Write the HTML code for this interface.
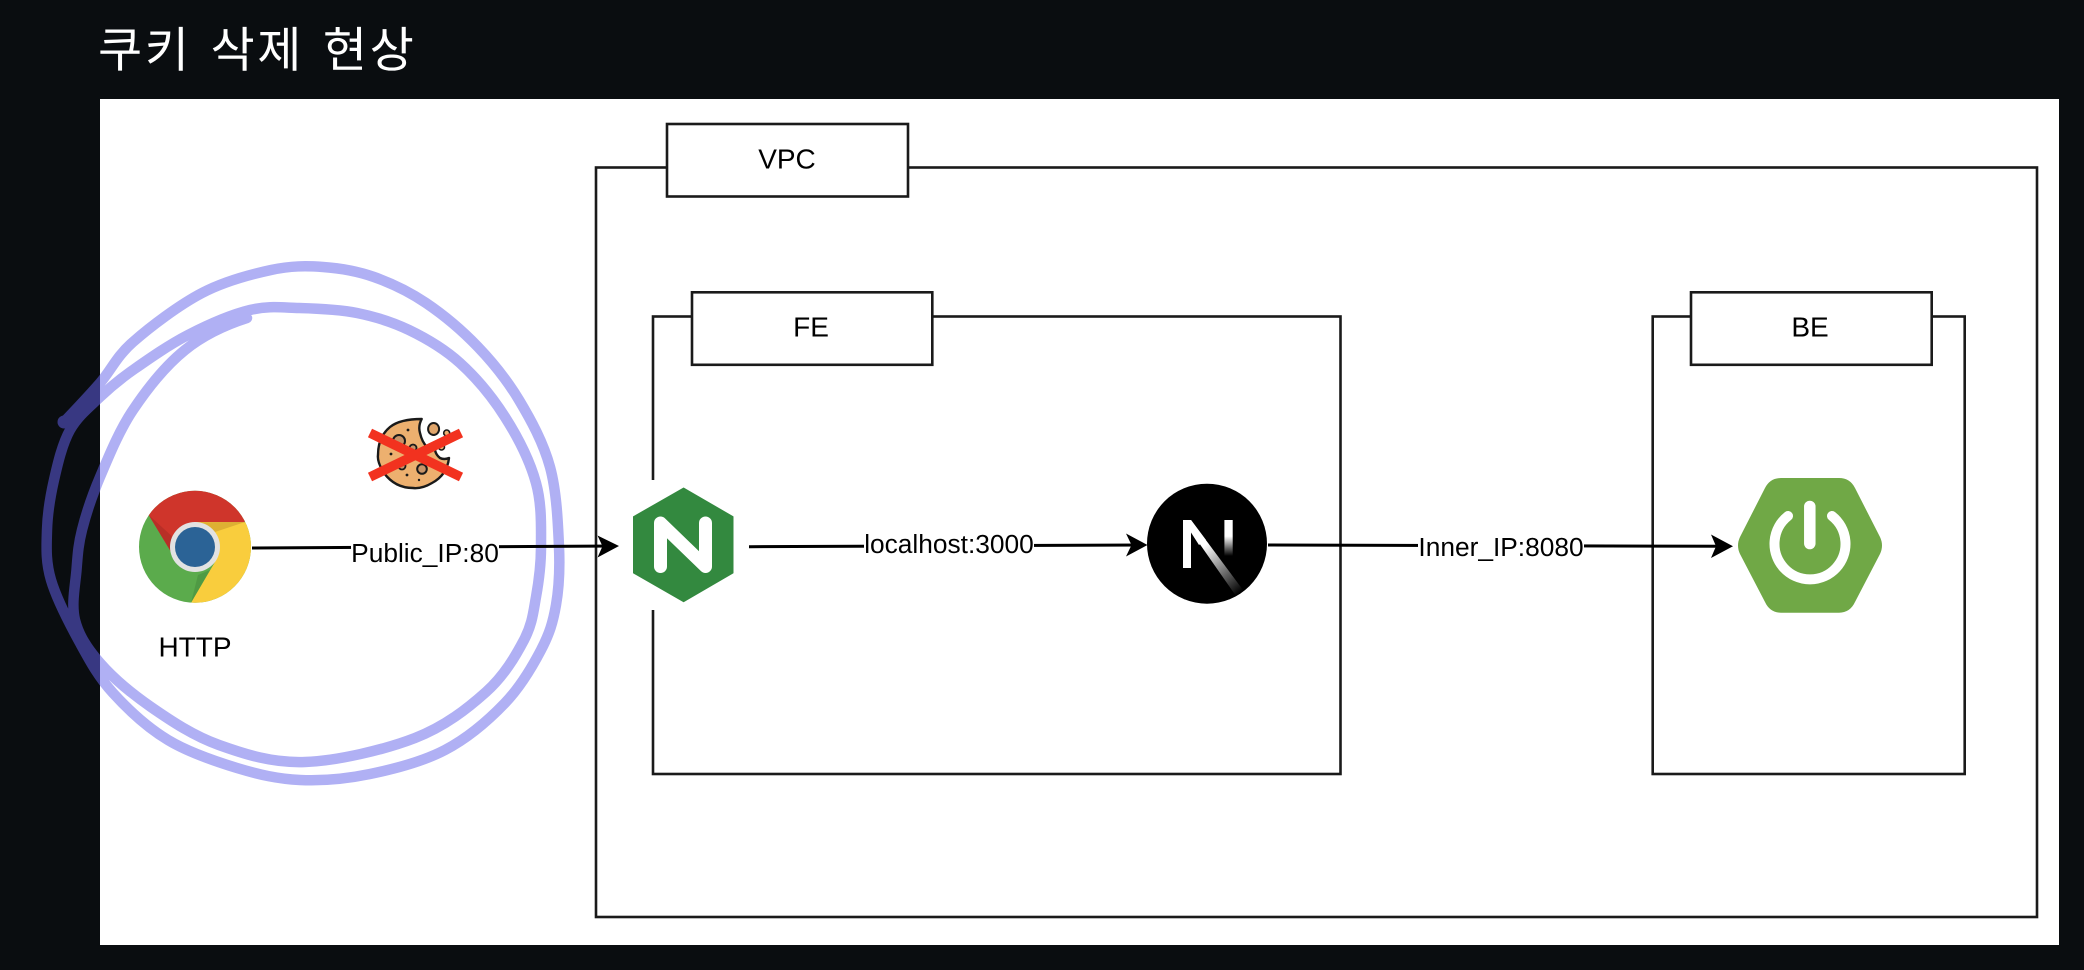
<!DOCTYPE html>
<html lang="ko"><head><meta charset="utf-8"><title>쿠키 삭제 현상</title>
<style>html,body{margin:0;padding:0;background:#0a0d10;width:2084px;height:970px;overflow:hidden}svg{display:block}
text{font-family:"Liberation Sans","Noto Sans CJK KR",sans-serif;fill:#000}</style></head>
<body>
<svg width="2084" height="970" viewBox="0 0 2084 970" xmlns="http://www.w3.org/2000/svg">
<defs>
<clipPath id="cw"><rect x="100" y="99" width="1959" height="846"/></clipPath>
<clipPath id="cd"><rect x="0" y="99" width="100" height="846"/></clipPath>
<clipPath id="cc"><circle cx="195" cy="546.8" r="56"/></clipPath>
<linearGradient id="g1" x1="0" y1="0" x2="0" y2="1"><stop offset="0" stop-color="#fff"/><stop offset="0.45" stop-color="#fff"/><stop offset="1" stop-color="#fff" stop-opacity="0"/></linearGradient>
<linearGradient id="g2" gradientUnits="userSpaceOnUse" x1="1205" y1="545" x2="1243" y2="590"><stop offset="0" stop-color="#fff"/><stop offset="1" stop-color="#fff" stop-opacity="0"/></linearGradient>
<path id="sc" d="M64 422 S88.5 396.3 100 383 S116 357 133 342 S179 305 202 293 S251 274.3 271 270 S306 265.8 323 267 S357 271 374 277 S408.7 291.3 426 303 S462.5 330.8 478 347 S507 380 519 400 S543.3 442.5 550 467 S558 524 559 547 S559 587.8 556 605 S549.5 633.7 541 650 S521 686.3 505 703 S467.5 738.2 445 750 S394.2 769 370 774 S322 781 300 780 S259 774.7 237 768 S188.7 752.5 168 740 S127.7 709.2 113 693 S90.3 661.8 80 643 S56.5 598.8 51 580 S46.5 546.7 47 530 S50.2 496.7 54 480 S62.3 443.8 70 430 S89.5 407 100 397 S118.3 380.3 133 370 S168.5 345 188 335 S231.5 314.5 250 310 S281.2 307.5 299 308 S338.7 309.3 357 313 S391.8 321.7 409 330 S444 348.5 460 363 S492.3 397 505 417 S530 461.3 536 483 S541 528 541 547 S538.8 581.5 536 597 S532.3 624.2 524 640 S504.2 675.7 486 692 S445.2 726.3 415 738 S337.7 760.8 305 762 S244.7 754.2 219 745 S170.8 720.7 151 707 S112.7 677.5 100 663 S78.9 635.5 75 620 S75.3 585 76.5 570 S78.1 545.5 82 530 S91.5 497 100 477 S118.8 431.2 133 410 S166 365.3 185 350 S225 325 247 318" fill="none" stroke-width="10.5" stroke-linecap="round" stroke-linejoin="round"/>
</defs>

<rect width="2084" height="970" fill="#0a0d10"/>
<text x="98" y="66.5" font-size="48" letter-spacing="2.6" word-spacing="3" style="fill:#fff;font-weight:400">쿠키 삭제 현상</text>
<rect x="100" y="99" width="1959" height="846" fill="#fff"/>

<g fill="none" stroke="#1a1a1a" stroke-width="2.6">
<rect x="596" y="167.5" width="1441" height="749.5"/>
<rect x="653" y="316.5" width="687.5" height="457.5"/>
<rect x="1652.7" y="316.5" width="312" height="457.5"/>
</g>
<rect x="640" y="480" width="26" height="130" fill="#fff"/>
<g fill="#fff" stroke="#1a1a1a" stroke-width="2.6">
<rect x="667" y="124" width="241" height="72.5"/>
<rect x="692" y="292.3" width="240.3" height="72.5"/>
<rect x="1691" y="292.3" width="240.7" height="72.5"/>
</g>
<g font-size="28" text-anchor="middle">
<text x="787" y="168.5">VPC</text>
<text x="811" y="336.5">FE</text>
<text x="1810" y="336.5">BE</text>
</g>

<g clip-path="url(#cw)"><use href="#sc" stroke="#b0b0f4"/></g>
<g clip-path="url(#cd)"><use href="#sc" stroke="#383882"/></g>
<g clip-path="url(#cd)"><circle cx="64" cy="422" r="6.5" fill="#383882"/></g>

<!-- Chrome -->
<g clip-path="url(#cc)">
<rect x="135" y="487" width="120" height="120" fill="#5bab4c"/>
<polygon points="148.7,515 171.7,553 195,522.3 244.3,522.3 250,510 210,480 150,480 130,505" fill="#cf352b"/>
<polygon points="148.7,515 171.7,553 171.7,536" fill="#b82f27"/>
<polygon points="195,522 244.3,522.3 262,522 262,610 191,602.7 215,562" fill="#f9cd3d"/>
<polygon points="195,522.3 244.3,522.3 215,532" fill="#deb033"/>
<polygon points="210,570 191,602.7 198,575" fill="#4f9a44"/>
</g>
<circle cx="195" cy="547" r="25" fill="#e2e2e2"/>
<circle cx="195" cy="547" r="20" fill="#2b6396"/>
<text x="195" y="656.5" font-size="28" text-anchor="middle">HTTP</text>

<!-- Cookie -->
<path d="M421.7 419 Q418 426 420 433 Q422 442 427 447 Q431 449 435 450 Q436 455 440 458 Q444 460 449 458 Q447 475 432 483 Q422 489 413 488 Q395 488 384 473 Q377 462 378 455 Q378 437 390 427 Q400 419 421.7 419 Z" fill="#edb06f" stroke="#1a1a1a" stroke-width="2.4" stroke-linejoin="round"/>
<ellipse cx="433.6" cy="429" rx="5.5" ry="6" fill="#e0a56b" stroke="#1a1a1a" stroke-width="2"/>
<circle cx="446.7" cy="433" r="3" fill="#edb06f" stroke="#1a1a1a" stroke-width="1.6"/>
<circle cx="441.5" cy="447" r="3" fill="#edb06f" stroke="#1a1a1a" stroke-width="1.6"/>
<circle cx="399" cy="441" r="6" fill="#c79468" stroke="#1a1a1a" stroke-width="2"/>
<circle cx="422" cy="469" r="4.8" fill="#c79468" stroke="#1a1a1a" stroke-width="2"/>
<circle cx="413" cy="448" r="3.5" fill="#c79468" stroke="#1a1a1a" stroke-width="1.8"/>
<circle cx="402" cy="466" r="3.5" fill="#c79468" stroke="#1a1a1a" stroke-width="1.8"/>
<circle cx="408" cy="430" r="1.4" fill="#1a1a1a"/><circle cx="391" cy="454" r="1.4" fill="#1a1a1a"/><circle cx="407" cy="475" r="1.4" fill="#1a1a1a"/><circle cx="419" cy="480" r="1.2" fill="#1a1a1a"/>
<g stroke="#f2321f" stroke-width="9.5" stroke-linecap="butt">
<line x1="370" y1="433" x2="461" y2="477"/>
<line x1="461" y1="433" x2="370" y2="477"/>
</g>

<!-- Arrow 1 -->
<path d="M252 548 L616 546" stroke="#000" stroke-width="3" fill="none"/>
<polygon points="619,546 597.5,535.5 602.5,546.2 597.5,557.5" fill="#000"/>
<rect x="351" y="538" width="148" height="30" fill="#fff"/>
<text x="425" y="562" font-size="26.3" text-anchor="middle">Public_IP:80</text>

<!-- Nginx -->
<polygon points="683.6,488 733,516.7 733,573 683.6,601.7 633.5,573 633.5,516.7" fill="#33893f" stroke="#33893f" stroke-width="1" stroke-linejoin="round"/>
<path d="M660.5 566.5 V523 L705.5 566.5 V523" fill="none" stroke="#fff" stroke-width="13" stroke-linecap="round" stroke-linejoin="round"/>

<!-- Arrow 2 -->
<path d="M749 546.7 L1143 545" stroke="#000" stroke-width="3" fill="none"/>
<polygon points="1147.5,545 1126,533.5 1131.5,545 1126,556.5" fill="#000"/>
<rect x="864" y="530" width="170" height="30" fill="#fff"/>
<text x="949" y="553" font-size="26.3" text-anchor="middle">localhost:3000</text>

<!-- Next -->
<circle cx="1207" cy="543.7" r="60" fill="#000"/>
<rect x="1183" y="520" width="8" height="48" fill="#fff"/>
<rect x="1224.4" y="520" width="8.3" height="36" fill="url(#g1)"/>
<polygon points="1183,520 1191,520 1243,590 1236,596" fill="url(#g2)"/>
<polygon points="1183,520 1191,520 1206,540 1199,545" fill="#fff"/>

<!-- Arrow 3 -->
<path d="M1268 545 L1729 546.3" stroke="#000" stroke-width="3" fill="none"/>
<polygon points="1733,546.3 1711,534.5 1716,546.3 1711,558" fill="#000"/>
<rect x="1418" y="530" width="166" height="30" fill="#fff"/>
<text x="1501" y="556" font-size="26.3" text-anchor="middle">Inner_IP:8080</text>

<!-- Spring -->
<path d="M1781 478 H1839 Q1850 478 1855 488 L1880 537 Q1884 545.5 1880 554 L1855 602 Q1850 612.7 1839 612.7 H1781 Q1770 612.7 1765 602 L1740 554 Q1736 545.5 1740 537 L1765 488 Q1770 478 1781 478 Z" fill="#70a846"/>
<path d="M1788 516 A35.5 35.5 0 1 0 1832 516" fill="none" stroke="#fff" stroke-width="10" stroke-linecap="round"/>
<line x1="1809.8" y1="506.5" x2="1809.8" y2="543.5" stroke="#fff" stroke-width="11.5" stroke-linecap="round"/>
</svg>
</body></html>
